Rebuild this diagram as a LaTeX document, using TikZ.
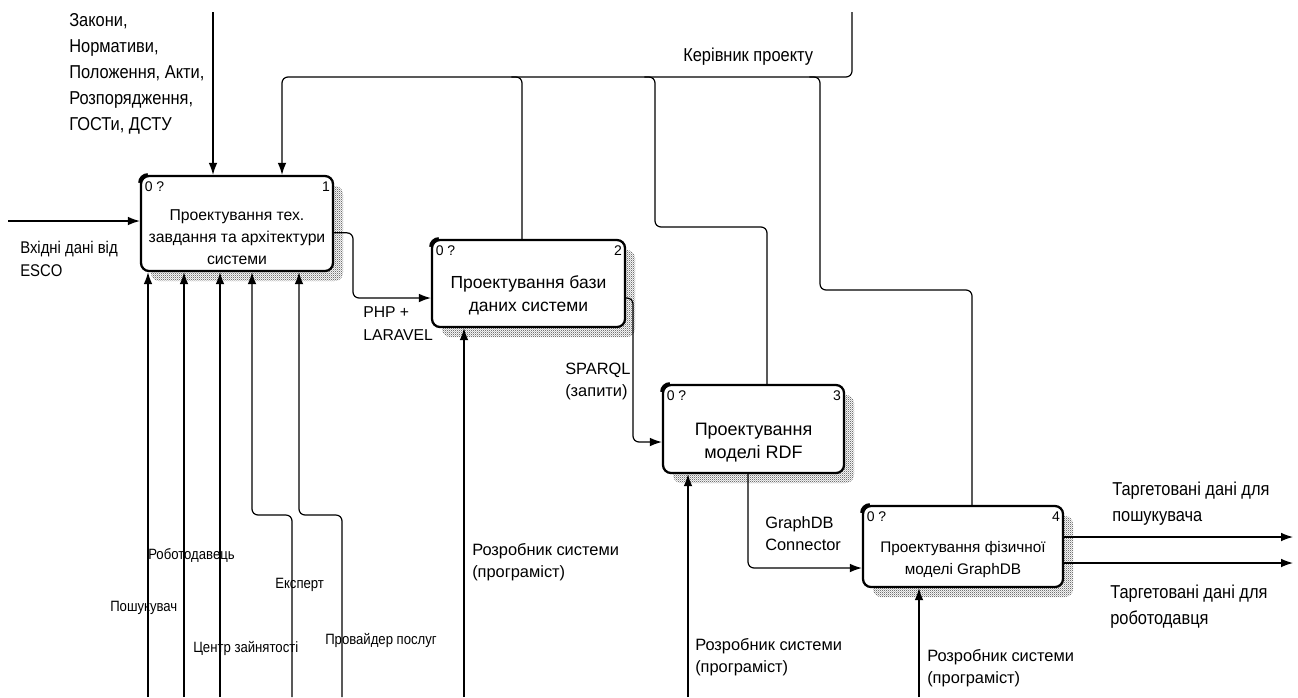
\documentclass[tikz,border=0pt]{standalone}
\usepackage{fontspec}
\setmainfont{Liberation Sans}
\newfontfamily\narrowfont[FakeStretch=0.88]{Liberation Sans}
\usetikzlibrary{arrows.meta,patterns.meta,shadows,positioning}

\tikzdeclarepattern{name=shadedots, type=uncolored,
    bottom left={(0pt,0pt)}, top right={(1.6pt,1.6pt)}, tile size={(1.6pt,1.6pt)},
    code={\fill (0pt,0pt) rectangle (0.8pt,0.8pt); \fill (0.8pt,0.8pt) rectangle (1.6pt,1.6pt);}}

\begin{document}
\begin{tikzpicture}[x=0.75pt, y=-0.75pt,
    act/.style={rectangle, draw, line width=1.7pt, rounded corners=6pt, fill=white, inner sep=0pt,
        drop shadow={shadow xshift=7.5pt, shadow yshift=-7.5pt, opacity=1, pattern=shadedots, pattern color=black!55}},
    acttext/.style={align=center, inner sep=0pt},
    num/.style={inner sep=0pt, font=\fontsize{10.5}{12}\selectfont},
    flow/.style={-{Latex[length=9pt, width=6.5pt]}, line width=0.9pt, rounded corners=4.5pt},
    line/.style={line width=0.9pt, rounded corners=4.5pt},
    lbl/.style={inner sep=0pt, align=left, font=\narrowfont\fontsize{14}{19.5}\selectfont},
    lblsm/.style={inner sep=0pt, font=\narrowfont\fontsize{11.2}{13}\selectfont},
    lblreg/.style={inner sep=0pt, align=left, font=\fontsize{12.3}{16.5}\selectfont}
]
    \useasboundingbox (0,0) rectangle (1298,697);

    % Activities
    \node[act, minimum width=144pt,    minimum height=71.25pt] (a1) at (237,223.5) {};
    \node[act, minimum width=144.75pt, minimum height=65.25pt] (a2) at (528.5,283.5) {};
    \node[act, minimum width=135.75pt, minimum height=66pt]    (a3) at (753.5,429) {};
    \node[act, minimum width=150pt,    minimum height=60.75pt] (a4) at (963,546.5) {};

    \node[acttext, font=\fontsize{11.8}{16.5}\selectfont] (t1) at ([yshift=-10pt]a1.center)
        {Проектування тех.\\завдання та архітектури\\системи};
    \node[acttext, font=\fontsize{13.1}{17.25}\selectfont] (t2) at ([yshift=-9pt]a2.center)
        {Проектування бази\\даних системи};
    \node[acttext, font=\fontsize{13.5}{17.25}\selectfont] (t3) at ([yshift=-10.5pt]a3.center)
        {Проектування\\моделі RDF};
    \node[acttext, font=\fontsize{11.5}{16.5}\selectfont] (t4) at ([yshift=-10pt]a4.center)
        {Проектування фізичної\\моделі GraphDB};

    % Corner marks
    \foreach \a/\n in {a1/1, a2/2, a3/3, a4/4} {
        \node[num, anchor=north west] (\a z) at ([shift={(3.5pt,-5pt)}]\a.north west) {0 ?};
        \node[num, anchor=north east] (\a n) at ([shift={(-3pt,-5pt)}]\a.north east) {\n};
        \draw[line width=2.6pt] ([yshift=-6pt]\a.north west) arc[start angle=180, end angle=90, radius=6pt];
    }

    % Free ends
    \coordinate (esco) at (8,221);
    \coordinate (law)  at (213,12);
    \coordinate (mgr)  at (852,12);
    \coordinate (bus)  at (282,77);
    \coordinate (br2)  at (522,77);
    \coordinate (br3)  at (655,77);
    \coordinate (br3b) at (767,227);
    \coordinate (br4)  at (820,77);
    \coordinate (br4b) at (972,290);
    \coordinate (o1)   at (353,298);
    \coordinate (o2)   at (633,442);
    \coordinate (o3)   at (748,568);
    \coordinate (out1) at (1293,537);
    \coordinate (out2) at (1293,563);
    \coordinate (m1)   at (148,697);
    \coordinate (m2)   at (184,697);
    \coordinate (m3)   at (220,697);
    \coordinate (m4)   at (292,697);
    \coordinate (m4b)  at (252,515);
    \coordinate (m5)   at (342,697);
    \coordinate (m5b)  at (299,515);
    \coordinate (d2)   at (464,697);
    \coordinate (d3)   at (688,697);
    \coordinate (d4)   at (919,697);

    % Input and controls
    \draw[flow] (esco) -- (esco -| a1.west);
    \draw[flow] (law) -- (law |- a1.north);
    \draw[flow] (mgr) |- (bus) -- (bus |- a1.north);
    \draw[line] ([xshift=-8pt]br2) -- (br2) -- (br2 |- a2.north);
    \draw[line] ([xshift=-8pt]br3) -- (br3) |- (br3b) -- (br3b |- a3.north);
    \draw[line] ([xshift=-8pt]br4) -- (br4) |- (br4b) -- (br4b |- a4.north);

    % Flow between activities
    \draw[flow] ([yshift=-7pt]a1.east) -| (o1) -- (o1 -| a2.west);
    \draw[flow] ([yshift=-10.9pt]a2.east) -| (o2) -- (o2 -| a3.west);
    \draw[flow] (a3.south -| o3) -- (o3) -- (o3 -| a4.west);

    % Outputs
    \draw[flow] (out1 -| a4.east) -- (out1);
    \draw[flow] (out2 -| a4.east) -- (out2);

    % Mechanisms
    \draw[flow] (m1) -- (m1 |- a1.south);
    \draw[flow] (m2) -- (m2 |- a1.south);
    \draw[flow] (m3) -- (m3 |- a1.south);
    \draw[flow] (m4) |- (m4b) -- (m4b |- a1.south);
    \draw[flow] (m5) |- (m5b) -- (m5b |- a1.south);
    \draw[flow] (d2) -- (d2 |- a2.south);
    \draw[flow] (d3) -- (d3 |- a3.south);
    \draw[flow] (d4) -- (d4 |- a4.south);

    % Labels
    \node[lbl, anchor=north west] (lLaw) at (69,13)
        {Закони,\\Нормативи,\\Положення, Акти,\\Розпорядження,\\ГОСТи, ДСТУ};
    \node[lbl, anchor=west] (lMgr) at (683,57) {Керівник проекту};
    \node[lbl, anchor=north west, font=\narrowfont\fontsize{12.7}{17.25}\selectfont] (lEsco) at (20,241)
        {Вхідні дані від\\ESCO};
    \node[lblreg, anchor=north west, font=\fontsize{11.8}{17.25}\selectfont] (lPhp) at (363,306) {PHP +\\LARAVEL};
    \node[lblreg, anchor=north west] (lSparql) at (565,363) {SPARQL\\(запити)};
    \node[lblreg, anchor=north west] (lConn) at (765,516) {GraphDB\\Connector};
    \node[lbl, anchor=north west] (lOut1) at (1112,482) {Таргетовані дані для\\пошукувача};
    \node[lbl, anchor=north west] (lOut2) at (1110,585) {Таргетовані дані для\\роботодавця};
    \node[lblreg, anchor=north west] (lDev2) at (472,543) {Розробник системи\\(програміст)};
    \node[lblreg, anchor=north west] (lDev3) at (695,638) {Розробник системи\\(програміст)};
    \node[lblreg, anchor=north west] (lDev4) at (927,649) {Розробник системи\\(програміст)};
    \node[lblsm, anchor=west] (lEmp)    at (148,555) {Роботодавець};
    \node[lblsm, anchor=west] (lSeek)   at (110,608) {Пошукувач};
    \node[lblsm, anchor=west] (lCenter) at (193,648) {Центр зайнятості};
    \node[lblsm, anchor=west] (lExp)    at (275,585) {Експерт};
    \node[lblsm, anchor=west] (lProv)   at (325,640) {Провайдер послуг};
\end{tikzpicture}
\end{document}
